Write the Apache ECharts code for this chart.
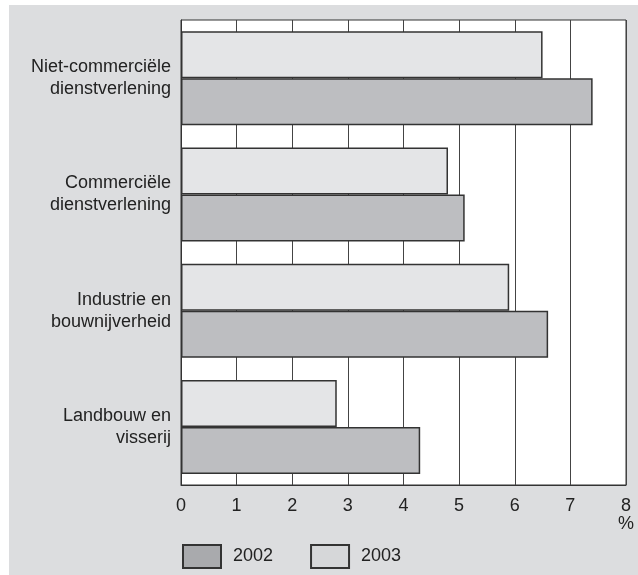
<!DOCTYPE html>
<html>
<head>
<meta charset="utf-8">
<script src="https://cdn.jsdelivr.net/npm/echarts@6/dist/echarts.min.js"></script>
<style>
  html, body { margin: 0; padding: 0; background: #fff; }
  #chart { width: 638px; height: 575px; }
</style>
</head>
<body>
<div id="chart"></div>
<script>
// sectoren, van boven naar beneden
var categories = ['Niet-commerciële\ndienstverlening', 'Commerciële\ndienstverlening', 'Industrie en\nbouwnijverheid', 'Landbouw en\nvisserij'];
var values2003 = [6.5, 4.8, 5.9, 2.8];
var values2002 = [7.4, 5.1, 6.6, 4.3];
var xTicks = [0, 1, 2, 3, 4, 5, 6, 7, 8];

var chart = echarts.init(document.getElementById('chart'));

var textCol = '#222';
var font = 'Liberation Sans';

var option = {
  animation: false,
  graphic: [{
    type: 'rect',
    z: -10,
    shape: { x: 9, y: 5, width: 629, height: 570 },
    style: { fill: '#dcdddf' }
  }],
  grid: {
    left: 181, top: 20, right: 12, bottom: 90,
    show: true,
    backgroundColor: '#fff',
    borderColor: '#333',
    borderWidth: 1
  },
  legend: {
    left: 182,
    top: 544,
    padding: 0,
    itemWidth: 38,
    itemHeight: 23,
    itemGap: 37,
    icon: 'rect',
    data: [
      { name: '2002', itemStyle: { color: '#a9aaad' } },
      { name: '2003', itemStyle: { color: '#d6d7d9' } }
    ],
    textStyle: { color: textCol, fontSize: 18, fontFamily: font, padding: [0, 0, 0, 7] }
  },
  xAxis: {
    type: 'value',
    min: xTicks[0],
    max: xTicks[xTicks.length - 1],
    interval: 1,
    axisLine: { show: true, lineStyle: { color: '#333', width: 1 } },
    axisTick: { show: false },
    splitLine: { show: true, lineStyle: { color: '#444', width: 1 } },
    axisLabel: {
      color: textCol, fontSize: 18, fontFamily: font, margin: 12, lineHeight: 18,
      formatter: function (v) { return v === 8 ? '8\n%' : String(v); }
    }
  },
  yAxis: {
    type: 'category',
    inverse: true,
    data: categories,
    axisLine: { show: true, lineStyle: { color: '#333' } },
    axisTick: { show: false },
    axisLabel: { color: textCol, fontSize: 18, fontFamily: font, lineHeight: 22, margin: 10, align: 'right', padding: [4, 0, 0, 0] }
  },
  series: [
    {
      name: '2003',
      type: 'bar',
      data: values2003,
      barWidth: 47,
      barGap: '0%',
      itemStyle: { color: '#e4e5e7', borderColor: '#333', borderWidth: 1.5 }
    },
    {
      name: '2002',
      type: 'bar',
      data: values2002,
      barWidth: 47,
      barGap: '0%',
      itemStyle: { color: '#bdbec1', borderColor: '#333', borderWidth: 1.5 }
    }
  ]
};

chart.setOption(option);
</script>
</body>
</html>
